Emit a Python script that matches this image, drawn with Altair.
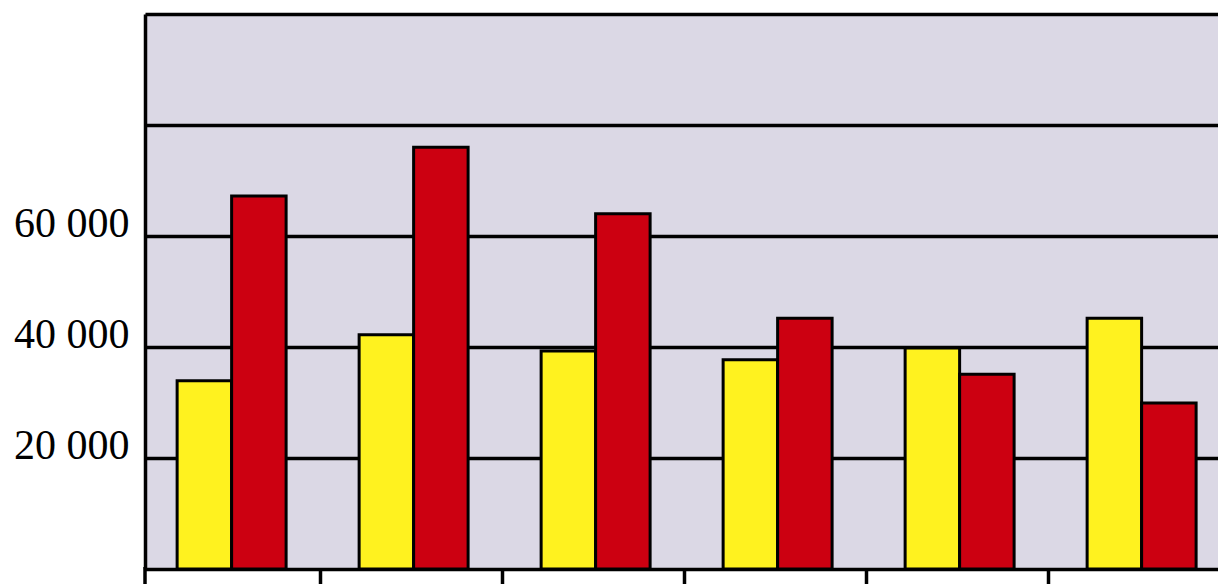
import altair as alt
import pandas as pd

categories = ["1", "2", "3", "4", "5", "6"]
series_names = ["Series 1", "Series 2"]
yellow_values = [33900, 42200, 39300, 37700, 39800, 45200]
red_values = [67200, 76000, 64000, 45200, 35100, 29900]
y_ticks = [0, 20000, 40000, 60000, 80000, 100000]
tick_labels = {20000: "20 000", 40000: "40 000", 60000: "60 000"}

rows = []
for c, yv, rv in zip(categories, yellow_values, red_values):
    rows.append({"cat": c, "series": series_names[0], "value": yv})
    rows.append({"cat": c, "series": series_names[1], "value": rv})
df = pd.DataFrame(rows)

label_expr = " : ".join(
    [f"datum.value == {k} ? '{v}'" for k, v in tick_labels.items()]
) + " : ''"

x_scale = alt.Scale(domain=categories, paddingInner=0, paddingOuter=0, range=[0, 1092])

bars = (
    alt.Chart(df)
    .mark_bar(stroke="black", strokeWidth=3)
    .encode(
        x=alt.X(
            "cat:N",
            title=None,
            sort=categories,
            scale=x_scale,
            axis=alt.Axis(
                labels=False,
                domain=False,
                grid=False,
                ticks=True,
                tickSize=16,
                tickWidth=3.5,
                tickColor="black",
                bandPosition=1,
                tickOffset=-7,
            ),
        ),
        xOffset=alt.XOffset(
            "series:N",
            sort=series_names,
            scale=alt.Scale(paddingInner=0, paddingOuter=0.67, align=0.44),
        ),
        y=alt.Y(
            "value:Q",
            title=None,
            scale=alt.Scale(domain=[0, 100000], nice=False),
            axis=alt.Axis(
                values=y_ticks,
                labelExpr=label_expr,
                grid=True,
                gridColor="black",
                gridWidth=3.5,
                ticks=False,
                domain=True,
                domainColor="black",
                domainWidth=3.5,
                labelFont="Liberation Serif",
                labelFontSize=42,
                labelColor="black",
                labelPadding=16,
                labelBaseline="alphabetic",
                labelFlush=False,
            ),
        ),
        color=alt.Color(
            "series:N",
            sort=series_names,
            scale=alt.Scale(domain=series_names, range=["#fff21f", "#cc0011"]),
            legend=None,
        ),
    )
)

first_tick = (
    alt.Chart(pd.DataFrame({"cat": [categories[0]]}))
    .mark_rule(color="black", strokeWidth=3.5)
    .encode(
        x=alt.X("cat:N", sort=categories, scale=x_scale, bandPosition=0),
        y=alt.value(553),
        y2=alt.value(575),
    )
)

chart = (
    alt.layer(bars, first_tick)
    .properties(
        width=1073,
        height=555,
        padding={"left": 145, "top": 14, "right": 0, "bottom": 15},
        autosize=alt.AutoSizeParams(type="none"),
        background="white",
    )
    .configure_view(fill="#dbd8e5", strokeWidth=0)
)

chart.save("out.html", embed_options={"renderer": "svg", "actions": False})
